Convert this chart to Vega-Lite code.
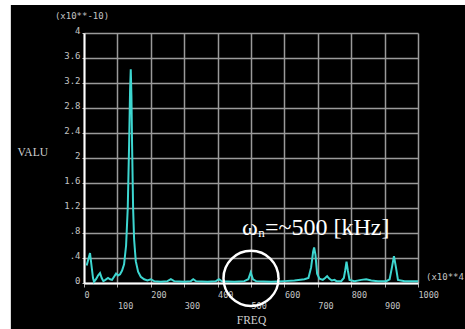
{
  "$schema": "https://vega.github.io/schema/vega-lite/v6.json",
  "width": 334,
  "height": 250,
  "autosize": {"type": "none"},
  "padding": {"left": 84, "top": 33, "right": 47, "bottom": 46},
  "background": "black",
  "config": {
    "view": {"stroke": null},
    "axis": {"labelOverlap": false, "labelFlush": false, "labelBound": false, "gridColor": "#9a9a9a", "gridWidth": 1.5, "gridOpacity": 1, "domainColor": "white", "domainWidth": 2, "labelColor": "#c4c4c4", "labelFont": "DejaVu Sans Mono", "titleFont": "Liberation Serif", "titleFontWeight": "normal", "titleColor": "#d0d0d0", "titleFontSize": 11.5}
  },
  "encoding": {
    "x": {
      "field": "f", "type": "quantitative",
      "scale": {"domain": [0, 1000], "nice": false, "zero": false},
      "axis": {
        "values": [0, 100, 200, 300, 400, 500, 600, 700, 800, 900, 1000],
        "grid": true,
        "tickColor": "#aaaaaa", "tickSize": 4, "tickWidth": 1,
        "labelAlign": "left", "labelBaseline": "top",
        "labelFontSize": 8.5,
        "labelPadding": 3, "labelLineHeight": 11.5,
        "labelExpr": "datum.value % 200 == 100 ? [' ', format(datum.value, 'd')] : format(datum.value, 'd')",
        "labelOverlap": false,
        "title": "FREQ", "titleY": 37, "titleBaseline": "middle"
      }
    },
    "y": {
      "field": "v", "type": "quantitative",
      "scale": {"domain": [0, 4], "nice": false},
      "axis": {
        "values": [0, 0.4, 0.8, 1.2, 1.6, 2, 2.4, 2.8, 3.2, 3.6, 4],
        "grid": true,
        "tickColor": "#cccccc", "tickSize": 2,
        "labelFontSize": 9,
        "labelPadding": 2, "labelBaseline": "alphabetic",
        "labelOverlap": false,
        "labelExpr": "datum.value == 0 ? '0' : datum.value < 1 ? '.' + round(datum.value * 10) : (abs(datum.value - round(datum.value)) < 0.001 ? format(datum.value, 'd') : format(datum.value, '.1f'))",
        "title": "VALU", "titleAngle": 0, "titleAlign": "left", "titleBaseline": "middle",
        "titleX": -67, "titleY": 119
      }
    }
  },
  "layer": [
    {
      "data": {"values": [{"f": -260, "f2": -219, "v": -1, "v2": 5}, {"f": -260, "f2": 1200, "v": 4.45, "v2": 5}]},
      "mark": {"type": "rect", "fill": "white", "clip": false},
      "encoding": {
        "x2": {"field": "f2"},
        "y2": {"field": "v2"}
      }
    },
    {
      "data": {"values": [
        {"f": 8, "v": 0.28}, {"f": 12, "v": 0.36}, {"f": 18, "v": 0.48}, {"f": 22, "v": 0.3}, {"f": 27, "v": 0.08}, {"f": 30, "v": 0.02},
        {"f": 36, "v": 0.06}, {"f": 42, "v": 0.12}, {"f": 48, "v": 0.16}, {"f": 53, "v": 0.08}, {"f": 58, "v": 0.03}, {"f": 64, "v": 0.05},
        {"f": 72, "v": 0.08}, {"f": 78, "v": 0.06}, {"f": 84, "v": 0.05}, {"f": 90, "v": 0.1}, {"f": 96, "v": 0.15}, {"f": 102, "v": 0.12},
        {"f": 108, "v": 0.14}, {"f": 114, "v": 0.2}, {"f": 120, "v": 0.3}, {"f": 126, "v": 0.6}, {"f": 131, "v": 1.2}, {"f": 135, "v": 2.2},
        {"f": 138, "v": 3.1}, {"f": 140, "v": 3.42}, {"f": 142, "v": 3.0}, {"f": 144, "v": 2.2}, {"f": 147, "v": 1.2}, {"f": 150, "v": 0.7},
        {"f": 155, "v": 0.35}, {"f": 162, "v": 0.18}, {"f": 170, "v": 0.1}, {"f": 180, "v": 0.06}, {"f": 190, "v": 0.04}, {"f": 200, "v": 0.06},
        {"f": 210, "v": 0.03}, {"f": 230, "v": 0.02}, {"f": 250, "v": 0.03}, {"f": 260, "v": 0.06}, {"f": 270, "v": 0.03}, {"f": 300, "v": 0.02},
        {"f": 320, "v": 0.03}, {"f": 327, "v": 0.06}, {"f": 335, "v": 0.03}, {"f": 370, "v": 0.02}, {"f": 395, "v": 0.03}, {"f": 404, "v": 0.06},
        {"f": 412, "v": 0.03}, {"f": 450, "v": 0.02}, {"f": 480, "v": 0.03}, {"f": 492, "v": 0.06}, {"f": 499, "v": 0.17}, {"f": 506, "v": 0.06},
        {"f": 515, "v": 0.03}, {"f": 560, "v": 0.02}, {"f": 600, "v": 0.03}, {"f": 630, "v": 0.04}, {"f": 660, "v": 0.06}, {"f": 672, "v": 0.08},
        {"f": 680, "v": 0.25}, {"f": 686, "v": 0.5}, {"f": 689, "v": 0.57}, {"f": 693, "v": 0.45}, {"f": 698, "v": 0.15}, {"f": 705, "v": 0.07},
        {"f": 715, "v": 0.05}, {"f": 722, "v": 0.08}, {"f": 728, "v": 0.11}, {"f": 734, "v": 0.07}, {"f": 742, "v": 0.04}, {"f": 750, "v": 0.05},
        {"f": 756, "v": 0.03}, {"f": 770, "v": 0.03}, {"f": 778, "v": 0.08}, {"f": 782, "v": 0.2}, {"f": 786, "v": 0.34}, {"f": 790, "v": 0.2},
        {"f": 795, "v": 0.05}, {"f": 810, "v": 0.03}, {"f": 830, "v": 0.05}, {"f": 845, "v": 0.06}, {"f": 860, "v": 0.04}, {"f": 880, "v": 0.03},
        {"f": 905, "v": 0.03}, {"f": 915, "v": 0.06}, {"f": 922, "v": 0.25}, {"f": 928, "v": 0.43}, {"f": 934, "v": 0.25}, {"f": 940, "v": 0.05},
        {"f": 960, "v": 0.03}, {"f": 1000, "v": 0.03}
      ]},
      "mark": {"type": "line", "color": "#3dd6d0", "strokeWidth": 2}
    },
    {
      "data": {"values": [{"f": 500, "v": 0.074}]},
      "mark": {"type": "point", "shape": "circle", "size": 3025, "filled": false, "stroke": "white", "strokeWidth": 2.5, "opacity": 1, "clip": false}
    },
    {
      "data": {"values": [{"f": -6, "v": 4.27, "t": "(x10**-10)"}]},
      "mark": {"type": "text", "font": "DejaVu Sans Mono", "fontSize": 9, "color": "#c4c4c4", "align": "center", "baseline": "middle", "clip": false},
      "encoding": {"text": {"field": "t"}}
    },
    {
      "data": {"values": [{"f": 1024, "v": 0.1, "t": "(x10**4)"}]},
      "mark": {"type": "text", "font": "DejaVu Sans Mono", "fontSize": 9, "color": "#c4c4c4", "align": "left", "baseline": "middle", "clip": false},
      "encoding": {"text": {"field": "t"}}
    },
    {
      "data": {"values": [{"f": 473, "v": 0.77, "t": "ω"}]},
      "mark": {"type": "text", "font": "Liberation Serif", "fontSize": 24, "color": "white", "align": "left", "baseline": "alphabetic", "clip": false},
      "encoding": {"text": {"field": "t"}}
    },
    {
      "data": {"values": [{"f": 522, "v": 0.73, "t": "n"}]},
      "mark": {"type": "text", "font": "Liberation Serif", "fontSize": 13, "color": "white", "align": "left", "baseline": "alphabetic", "clip": false},
      "encoding": {"text": {"field": "t"}}
    },
    {
      "data": {"values": [{"f": 542, "v": 0.77, "t": "=~500 [kHz]"}]},
      "mark": {"type": "text", "font": "Liberation Serif", "fontSize": 24, "color": "white", "align": "left", "baseline": "alphabetic", "clip": false},
      "encoding": {"text": {"field": "t"}}
    }
  ]
}
